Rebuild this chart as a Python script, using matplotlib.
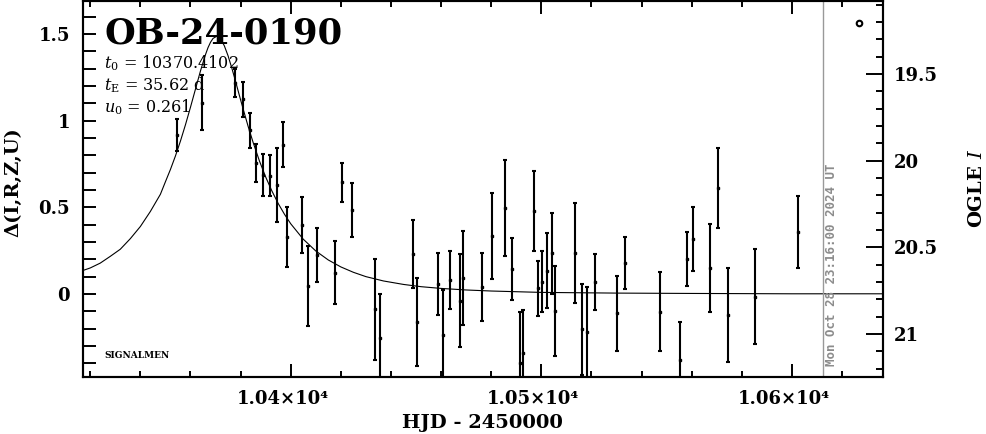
import numpy as np
import matplotlib
matplotlib.use('Agg')
import matplotlib.pyplot as plt
from matplotlib.ticker import MultipleLocator, FixedLocator, FuncFormatter
import matplotlib.transforms as mtransforms

plt.rcParams['font.family'] = ['DejaVu Serif']
plt.rcParams['mathtext.fontset'] = 'dejavuserif'

# event info
event = 'OB-24-0190'
t0_txt = '10370.4102'
tE_txt = '35.62 d'
u0_txt = '0.261'
I_base = 20.769          # OGLE I at delta = 0
now_hjd = 10612.47
now_label = 'Mon Oct 28 23:16:00 2024 UT'

# photometry: HJD-2450000, delta mag, error
hjd = [10354.75, 10364.72, 10377.77, 10380.85, 10383.76, 10386.03, 10388.83,
       10391.74, 10394.65, 10396.81, 10398.64, 10404.63, 10406.78, 10410.61,
       10417.68, 10420.59, 10424.58, 10433.64, 10435.75, 10448.68, 10450.52,
       10458.66, 10460.65, 10463.45, 10467.44, 10468.88, 10476.46, 10480.45,
       10485.52, 10488.43, 10491.50, 10492.70, 10497.21, 10498.80, 10500.40,
       10502.39, 10504.39, 10505.47, 10513.45, 10516.24, 10518.36, 10521.43,
       10530.21, 10533.52, 10547.17, 10555.35, 10558.26, 10560.42, 10567.44,
       10570.39, 10574.38, 10585.40, 10602.31]
delta = [0.917, 1.104, 1.217, 1.122, 0.943, 0.755, 0.686,
         0.683, 0.629, 0.862, 0.327, 0.398, 0.046, 0.225,
         0.123, 0.644, 0.484, -0.088, -0.255, 0.229, -0.160,
         0.058, -0.236, 0.081, -0.038, 0.092, 0.039, 0.334,
         0.496, 0.144, -0.396, -0.339, 0.480, 0.033, 0.071,
         0.134, 0.235, -0.098, 0.235, -0.204, -0.221, 0.069,
         -0.111, 0.177, -0.102, -0.381, 0.204, 0.317, 0.148,
         0.613, -0.121, -0.016, 0.359]
err = [0.092, 0.159, 0.079, 0.099, 0.103, 0.110, 0.120,
       0.118, 0.212, 0.131, 0.173, 0.159, 0.233, 0.156,
       0.180, 0.112, 0.156, 0.292, 0.254, 0.197, 0.253,
       0.181, 0.260, 0.166, 0.269, 0.271, 0.197, 0.247,
       0.279, 0.178, 0.291, 0.245, 0.231, 0.159, 0.175,
       0.216, 0.233, 0.257, 0.288, 0.261, 0.263, 0.161,
       0.216, 0.151, 0.229, 0.221, 0.156, 0.183, 0.253,
       0.231, 0.271, 0.274, 0.208]

# model curve
model_t = [10317, 10320, 10324, 10328, 10332, 10336, 10340, 10344, 10348,
           10350, 10352, 10354, 10356, 10358, 10360, 10362, 10364, 10366,
           10367, 10368, 10369, 10370.4, 10371, 10372, 10373.5, 10375,
           10376.5, 10378, 10379.5, 10381, 10383, 10385, 10387.5, 10390,
           10392.5, 10395, 10397.5, 10400, 10405, 10410, 10415, 10420,
           10425, 10430, 10437, 10445, 10452, 10460, 10470, 10480, 10500,
           10530, 10560, 10600, 10637]
model_d = [0.135, 0.150, 0.178, 0.217, 0.258, 0.319, 0.389, 0.476, 0.575,
           0.647, 0.718, 0.796, 0.882, 0.976, 1.077, 1.182, 1.287, 1.381,
           1.421, 1.452, 1.474, 1.486, 1.483, 1.471, 1.432, 1.374,
           1.303, 1.226, 1.146, 1.068, 0.967, 0.874, 0.768, 0.675,
           0.594, 0.522, 0.460, 0.405, 0.316, 0.248, 0.196, 0.156,
           0.125, 0.100, 0.075, 0.055, 0.042, 0.032, 0.023, 0.017, 0.009,
           0.005, 0.003, 0.001, 0.001]

xticks = [10400, 10500, 10600]
xticklabels = ['1.04×10⁴', '1.05×10⁴', '1.06×10⁴']

xlo, xhi = 10317.0, 10636.2
ylo, yhi = -0.479, 1.690

fig = plt.figure(figsize=(9.86, 4.34), dpi=100)
ax = fig.add_axes([82.7 / 986, 57 / 434, 800 / 986, 376 / 434])

ax.plot(model_t, model_d, color='k', lw=0.8)
ax.errorbar(hjd, delta, yerr=err, fmt='s', ms=2, color='k', ecolor='k',
            elinewidth=1.5, capsize=1.5, capthick=1.5)

ax.axvline(now_hjd, color='0.6', lw=1)
ax.text(10615.6, 0.029, now_label, transform=ax.get_xaxis_transform(),
        rotation=90, ha='center', va='bottom', fontsize=9, color='0.55',
        family='DejaVu Sans Mono', fontweight='bold')

ax.plot([0.970], [0.9415], 'o', transform=ax.transAxes, mfc='white',
        mec='k', ms=4, mew=1.5, clip_on=False)

ax.set_xlim(xlo, xhi)
ax.set_ylim(ylo, yhi)

ax.xaxis.set_major_locator(FixedLocator(xticks))
ax.set_xticklabels(xticklabels)
ax.xaxis.set_minor_locator(MultipleLocator(20))
ax.yaxis.set_major_locator(MultipleLocator(0.5))
ax.yaxis.set_minor_locator(MultipleLocator(0.1))
ax.yaxis.set_major_formatter(FuncFormatter(lambda v, p: '%g' % v))

ax.tick_params(axis='x', which='major', direction='in', length=9.5, width=1.4,
               top=True, pad=9, labelsize=13)
ax.tick_params(axis='x', which='minor', direction='in', length=4.5, width=1.4,
               top=True)
ax.tick_params(axis='y', which='both', direction='in', length=9.5, width=1.4,
               right=False, pad=9, labelsize=13)
for lab in ax.get_xticklabels() + ax.get_yticklabels():
    lab.set_fontweight('bold')
offset = mtransforms.ScaledTranslation(-8 / 100, 0, fig.dpi_scale_trans)
for lab in ax.get_xticklabels():
    lab.set_transform(lab.get_transform() + offset)

ax2 = ax.twinx()
ax2.set_ylim(I_base - ylo, I_base - yhi)
ax2.yaxis.set_major_locator(MultipleLocator(0.5))
ax2.yaxis.set_minor_locator(MultipleLocator(0.1))
ax2.yaxis.set_major_formatter(FuncFormatter(lambda v, p: '%g' % v))
ax2.tick_params(axis='y', which='major', direction='in', length=12, width=1.4,
                pad=8, labelsize=13)
ax2.tick_params(axis='y', which='minor', direction='in', length=4.8, width=1.4)
for lab in ax2.get_yticklabels():
    lab.set_fontweight('bold')

for a in (ax, ax2):
    for s in a.spines.values():
        s.set_linewidth(1.5)

fig.text(104 / 986, 1 - 43 / 434, event, fontsize=25.5, fontweight='bold',
         va='baseline', ha='left')
fig.text(104 / 986, 1 - 68 / 434, r'$t_0$ = ' + t0_txt, fontsize=11.5, va='baseline')
fig.text(104 / 986, 1 - 90 / 434, r'$t_\mathrm{E}$ = ' + tE_txt, fontsize=11.5, va='baseline')
fig.text(104 / 986, 1 - 112 / 434, r'$u_0$ = ' + u0_txt, fontsize=11.5, va='baseline')
fig.text(104 / 986, 1 - 358 / 434, 'SIGNALMEN', fontsize=6.5, fontweight='bold',
         va='baseline')

fig.text(13 / 986, 1 - 182 / 434, 'Δ(I,R,Z,U)', rotation=90, ha='center',
         va='center', fontsize=14, fontweight='bold')
fig.text(977 / 986, 1 - 188 / 434, r'OGLE $\mathit{I}$', rotation=90,
         ha='center', va='center', fontsize=14, fontweight='bold')
fig.text(482 / 986, 1 - 423 / 434, 'HJD - 2450000', ha='center', va='center',
         fontsize=14, fontweight='bold')

fig.savefig('out.png', dpi=100)
